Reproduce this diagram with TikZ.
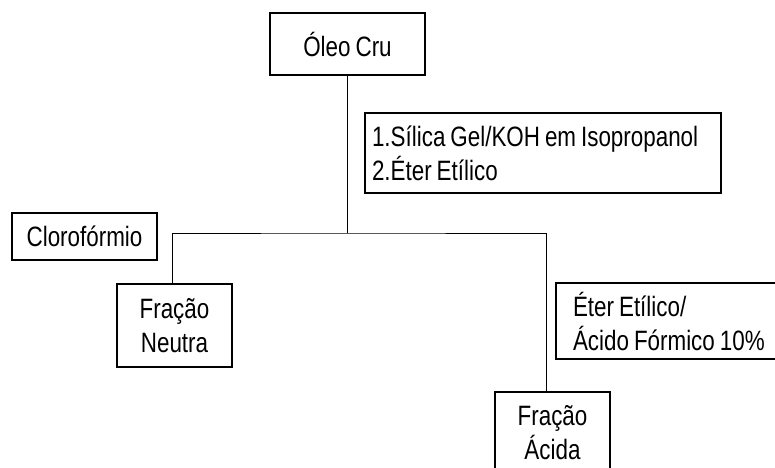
\documentclass[tikz,border=0pt]{standalone}
\usepackage{fontspec}
\setmainfont[FakeStretch=0.8,WordSpace=0.8]{Liberation Sans}
\usetikzlibrary{positioning}

\begin{document}
\begin{tikzpicture}[x=1pt,y=-1pt,line width=1.2pt,
    box node/.style={rectangle,draw,inner sep=0pt,align=center,font=\fontsize{28}{34}\selectfont},
    note node/.style={rectangle,draw,align=flush left,inner ysep=0pt,font=\fontsize{28}{34}\selectfont}]
  \useasboundingbox (0,0) rectangle (775,467);

  \node[box node,minimum width=155pt,minimum height=62pt] (oleo) at (347.5,44) {Óleo Cru};
  \node[note node,inner xsep=7pt,text width=342pt,minimum height=80pt] (reag1) at (543,153)
    {1.Sílica Gel/KOH em Isopropanol\\2.Éter Etílico};
  \node[box node,minimum width=145pt,minimum height=47pt] (cloro) at (84.5,236.5) {Clorofórmio};
  \node[box node,minimum width=115pt,minimum height=83pt] (neutra) at (174.5,325.5) {Fração\\Neutra};
  \node[note node,inner xsep=17pt,text width=240pt,minimum height=76pt] (reag2) at (693,321)
    {Éter Etílico/\\Ácido Fórmico 10\%};
  \node[box node,minimum width=115pt,minimum height=82pt] (acida) at (552.5,433) {Fração\\Ácida};

  \coordinate (split) at (oleo.south |- 0,233);
  \draw[line width=1pt] (oleo.south) -- (split);
  \draw[line width=1pt] ([xshift=-2.5pt]neutra.north) |- (split) -| ([xshift=-6.5pt]acida.north);
\end{tikzpicture}
\end{document}
